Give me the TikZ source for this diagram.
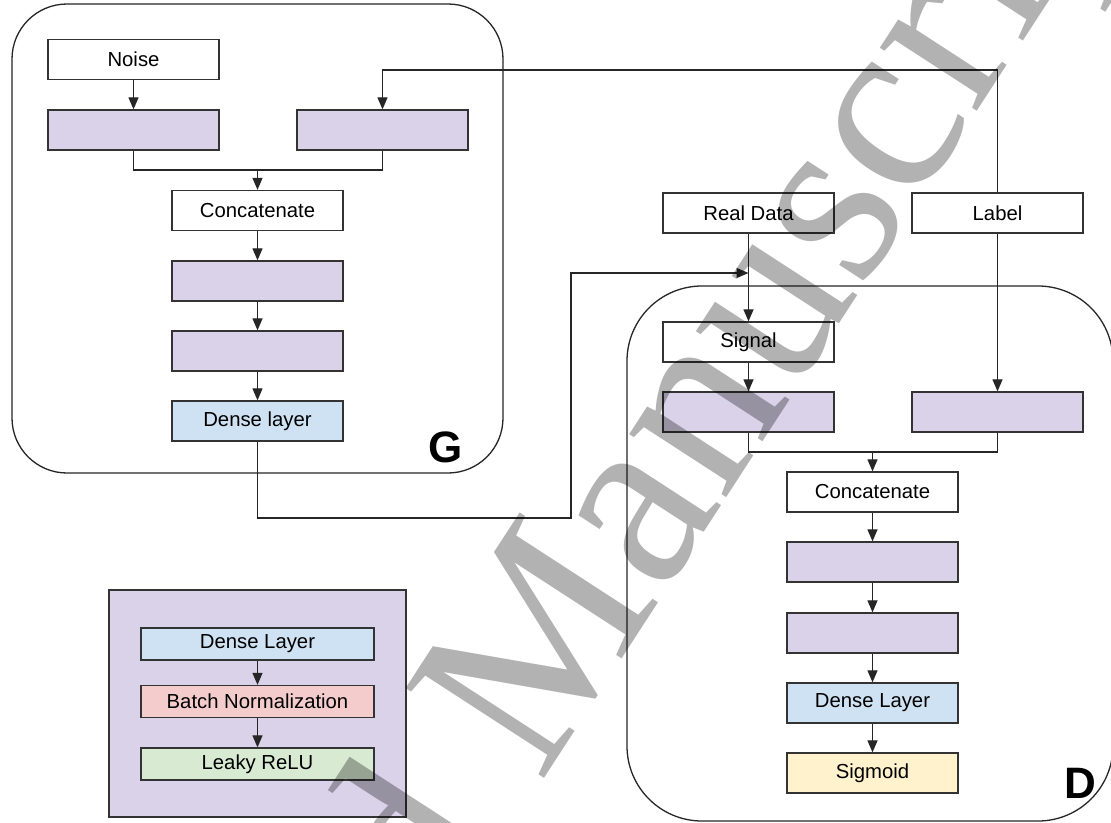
\documentclass[tikz,border=0pt]{standalone}
\usepackage{fontspec}
\setmainfont{Liberation Sans}
\newfontfamily\wmfont{Liberation Serif}
\usetikzlibrary{arrows.meta}
\definecolor{lpurple}{HTML}{D9D2E9}
\definecolor{lblue}{HTML}{CFE2F3}
\definecolor{lred}{HTML}{F4CCCC}
\definecolor{lgreen}{HTML}{D9EAD3}
\definecolor{lyellow}{HTML}{FFF2CC}
\begin{document}
\begin{tikzpicture}[x=1pt,y=-1pt,
  box/.style={draw=black!80, line width=1.3pt, minimum width=171pt, minimum height=40pt, inner sep=0pt, font=\fontsize{20.3}{24}\selectfont},
  pbox/.style={box, fill=lpurple},
  lbox/.style={box, minimum width=233pt, minimum height=32pt},
  conn/.style={line width=1.2pt, draw=black!85},
  arr/.style={conn, -{Triangle[length=12pt,width=10pt]}},
  grp/.style={draw=black!85, line width=1.3pt},
  big/.style={font=\bfseries\fontsize{44}{44}\selectfont, inner sep=0pt}
]
\path[use as bounding box] (0,0) rectangle (1111,822);
\clip (0,0) rectangle (1111,822);
\fill[white] (0,0) rectangle (1111,822);

% group frames
\draw[grp, rounded corners=55pt] (12,4) rectangle (503,473);
\draw[grp, rounded corners=75pt] (627,286) rectangle (1113,821);

% generator
\node[box] (noise) at (133.5,59.5) {Noise};
\node[pbox] (pL) at (133.5,130) {};
\node[pbox] (pR) at (382.5,130) {};
\node[box] (catG) at (257.5,210.5) {Concatenate};
\node[pbox] (g1) at (257.5,281) {};
\node[pbox] (g2) at (257.5,351) {};
\node[box, fill=lblue] (denseG) at (257.5,421) {Dense layer};
\node[big] (gl) at (446,447) {G};

% discriminator
\node[box] (real) at (748.5,213) {Real Data};
\node[box] (label) at (997.5,213) {Label};
\node[box] (signal) at (748.5,342) {Signal};
\node[pbox] (dL) at (748.5,412) {};
\node[pbox] (dR) at (997.5,412) {};
\node[box] (catD) at (872.5,492) {Concatenate};
\node[pbox] (d1) at (872.5,562) {};
\node[pbox] (d2) at (872.5,633) {};
\node[box, fill=lblue] (denseD) at (872.5,703) {Dense Layer};
\node[box, fill=lyellow] (sig) at (872.5,773) {Sigmoid};
\node[big] (dl) at (1080,783) {D};

% legend
\node[draw=black!80, line width=1.3pt, fill=lpurple, minimum width=297pt, minimum height=227pt, inner sep=0pt] (leg) at (257.5,703.5) {};
\node[lbox, fill=lblue] (lDense) at (257.5,644) {Dense Layer};
\node[lbox, fill=lred] (lBatch) at (257.5,701.5) {Batch Normalization};
\node[lbox, fill=lgreen] (lLeaky) at (257.5,764) {Leaky ReLU};

% connectors generator
\coordinate (jR) at (382.5,70);
\coordinate (mG) at (257.5,170);
\draw[arr] (noise) -- (pL);
\draw[arr] (label.north) |- (jR) -- (pR.north);
\draw[conn] (pL.south) |- (mG) -| (pR.south);
\draw[arr] (mG) -- (catG.north);
\draw[arr] (catG) -- (g1);
\draw[arr] (g1) -- (g2);
\draw[arr] (g2) -- (denseG);

% generator to discriminator
\coordinate (c1) at (257.5,518);
\coordinate (c2) at (571,518);
\coordinate (jD) at (748.5,273);
\draw[arr] (denseG.south) -- (c1) -- (c2) |- (jD);

% connectors discriminator
\coordinate (mD) at (872.5,452);
\draw[arr] (real) -- (signal);
\draw[arr] (signal) -- (dL);
\draw[arr] (label) -- (dR);
\draw[conn] (dL.south) |- (mD) -| (dR.south);
\draw[arr] (mD) -- (catD.north);
\draw[arr] (catD) -- (d1);
\draw[arr] (d1) -- (d2);
\draw[arr] (d2) -- (denseD);
\draw[arr] (denseD) -- (sig);

% legend arrows
\draw[arr] (lDense) -- (lBatch);
\draw[arr] (lBatch) -- (lLeaky);

% watermark
\node[font=\wmfont\fontsize{252}{252}\selectfont, text=black, text opacity=0.3, rotate=57, anchor=base west, inner sep=0pt] (wm) at (540,785) {\llap{Accepted\ }Manuscript};
\end{tikzpicture}
\end{document}
